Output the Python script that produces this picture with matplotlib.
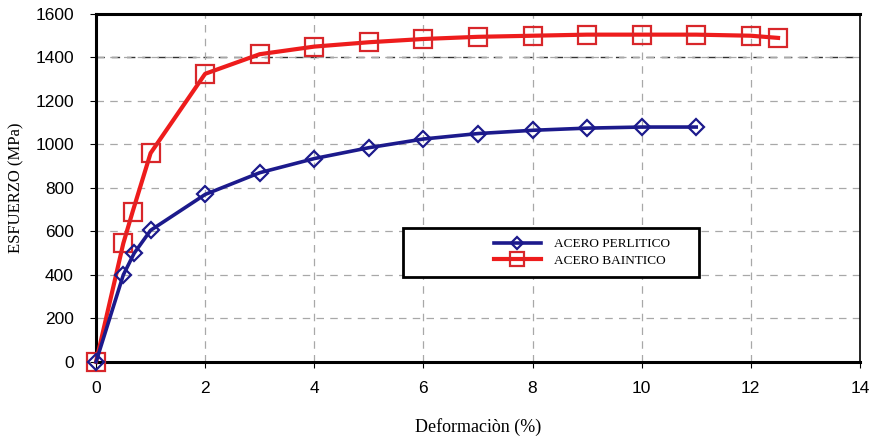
import matplotlib.pyplot as plt
from matplotlib.patches import Rectangle

# deformation (%) and stress (MPa)
perl_x = [0, 0.5, 0.7, 1, 2, 3, 4, 5, 6, 7, 8, 9, 10, 11]
perl_y = [0, 400, 500, 605, 770, 870, 935, 985, 1025, 1050, 1065, 1075, 1080, 1080]

bain_x = [0, 0.5, 0.67, 1, 2, 3, 4, 5, 6, 7, 8, 9, 10, 11, 12, 12.5]
bain_y = [0, 545, 690, 960, 1325, 1415, 1450, 1470, 1485, 1495, 1500, 1505, 1505, 1505, 1500, 1490]

x_ticks = [0, 2, 4, 6, 8, 10, 12, 14]
y_ticks = [0, 200, 400, 600, 800, 1000, 1200, 1400, 1600]

plt.rcParams['font.family'] = ['Liberation Sans', 'DejaVu Sans']

fig = plt.figure(figsize=(8.77, 4.44), dpi=100)
ax = fig.add_axes([0.1095, 0.185, 0.871, 0.7835])

ax.plot(perl_x, perl_y, color='#1c1a8c', lw=2.6, marker='D', ms=8,
        mfc='none', mec='#1c1a8c', mew=1.6, label='ACERO PERLITICO',
        zorder=4, clip_on=False)
ax.plot(bain_x, bain_y, color='#ee1c1c', lw=3.0, marker='s', ms=13,
        mfc='none', mec='#d8262a', mew=1.6, label='ACERO BAINTICO',
        zorder=3, clip_on=False)

ax.set_xlim(0, 14)
ax.set_ylim(0, 1600)
ax.set_xticks(x_ticks)
ax.set_yticks(y_ticks)
ax.tick_params(labelsize=12.5, length=4)
ax.tick_params(axis='x', pad=10)
ax.tick_params(axis='y', pad=12)

ax.grid(True, linestyle=(0, (6, 5)), color='#a8a8a8', lw=0.9)
ax.axhline(1400, linestyle=(0, (6, 5)), color='#333333', lw=1.0, zorder=1)
for side in ['top', 'left', 'bottom']:
    ax.spines[side].set_linewidth(2.2)
ax.spines['right'].set_linewidth(1.2)

ax.set_xlabel('Deformaciòn (%)', family='Liberation Serif', fontsize=13, labelpad=16)
ax.set_ylabel('ESFUERZO (MPa)', family='Liberation Serif', fontsize=12, labelpad=8)

# legend box
ax.add_patch(Rectangle((0.402, 0.244), 0.388, 0.141, transform=ax.transAxes,
                       facecolor='white', edgecolor='black', lw=2.0, zorder=5))
leg = ax.legend(loc='center left', bbox_to_anchor=(0.505, 0.3145), frameon=False,
                prop={'family': 'Liberation Serif', 'size': 9.5}, handlelength=3.6,
                labelspacing=0.35, handletextpad=1.0, markerscale=0.75)
leg.set_zorder(6)

fig.savefig('out.png', dpi=100)
